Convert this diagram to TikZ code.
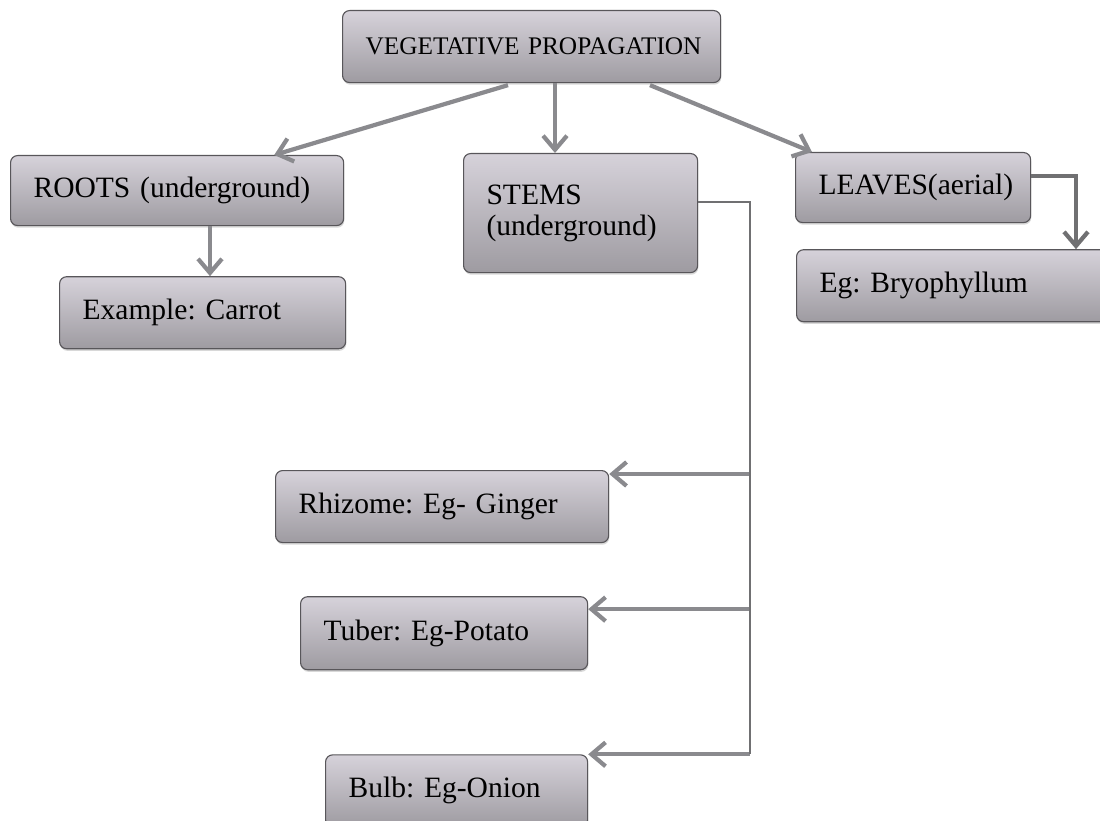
\documentclass[tikz,border=0pt]{standalone}
\usepackage{fontspec}
\setmainfont{Liberation Serif}
\usepackage{tikz}
\usetikzlibrary{calc,positioning,arrows.meta,shadows}
\definecolor{boxtop}{RGB}{214,210,218}
\definecolor{boxbot}{RGB}{158,155,161}
\definecolor{boxline}{RGB}{88,86,90}
\definecolor{arrgray}{RGB}{138,138,142}
\definecolor{trunkgray}{RGB}{112,112,114}
\frenchspacing
\begin{document}
\begin{tikzpicture}[x=0.025cm,y=-0.025cm,
    box/.style={rectangle,rounded corners=5pt,draw=boxline,line width=0.8pt,
      top color=boxtop,bottom color=boxbot,
      drop shadow={shadow xshift=0.5pt,shadow yshift=-1.5pt,fill=black!30,opacity=.5},
      text width=#1,align=left,inner xsep=0.575cm,inner ysep=0pt,
      minimum height=1.8cm,font=\fontsize{21}{22}\selectfont},
    arr/.style={draw=arrgray,line width=3pt,-{Straight Barb[length=10pt,width=17pt]}},
    trunkline/.style={draw=trunkgray,line width=2pt}]
 \useasboundingbox (0,0) rectangle (1100,821);
 \node[box=8.3cm,anchor=north west,font=\fontsize{18}{18}\selectfont] (vp) at (342,10)
  {\mbox{VEGETATIVE PROPAGATION}};
 \node[box=7.175cm,anchor=north west,minimum height=1.75cm] (roots) at (10,155)
  {ROOTS (underground)};
 \node[box=6.0cm,below right=1.25cm and 1.225cm of roots.south west] (carrot)
  {Example: Carrot};
 \node[box=4.7cm,anchor=north west,minimum height=2.975cm] (stems) at (463,153)
  {STEMS\\(underground)};
 \node[box=4.725cm,anchor=north west,minimum height=1.75cm] (leaves) at (795,152)
  {LEAVES(aerial)};
 \node[box=6.825cm,below right=0.65cm and 0.025cm of leaves.south west] (bryo)
  {Eg: Bryophyllum};
 \node[box=7.175cm,anchor=north west] (rhizome) at (275,470)
  {Rhizome: Eg- Ginger};
 \node[box=6.025cm,below right=1.325cm and 0.625cm of rhizome.south west,minimum height=1.825cm] (tuber)
  {Tuber: Eg-Potato};
 \node[box=5.4cm,below right=2.1cm and 0.625cm of tuber.south west] (bulb)
  {Bulb: Eg-Onion};

 \coordinate (vpmid) at ($(vp.south west)+(213,0)$);
 \draw[arr] ($(vp.south west)+(166,2)$) -- ($(roots.north east)+(-70,0)$);
 \draw[arr] (vpmid) -- (vpmid |- stems.north);
 \draw[arr] ($(vp.south west)+(308,2)$) -- ($(leaves.north west)+(17,0)$);

 \coordinate (rc) at ($(roots.south west)+(200,0)$);
 \draw[arr] (rc) -- (rc |- carrot.north);

 \coordinate (lv) at ($(leaves.north east)+(0,24)$);
 \coordinate (by) at ($(bryo.north west)+(280,0)$);
 \draw[arr,draw=trunkgray] (lv) -| (by);

 \coordinate (trunk) at (750,202);
 \foreach \X/\Y in {rhizome/4,tuber/13,bulb/0}
  {\coordinate (\X-in) at ($(\X.north east)+(0,\Y)$);
   \draw[arr] (trunk |- \X-in) -- (\X-in);}
 \draw[trunkline] (stems.north east |- trunk) -- (trunk) -- (trunk |- bulb-in);
\end{tikzpicture}
\end{document}
